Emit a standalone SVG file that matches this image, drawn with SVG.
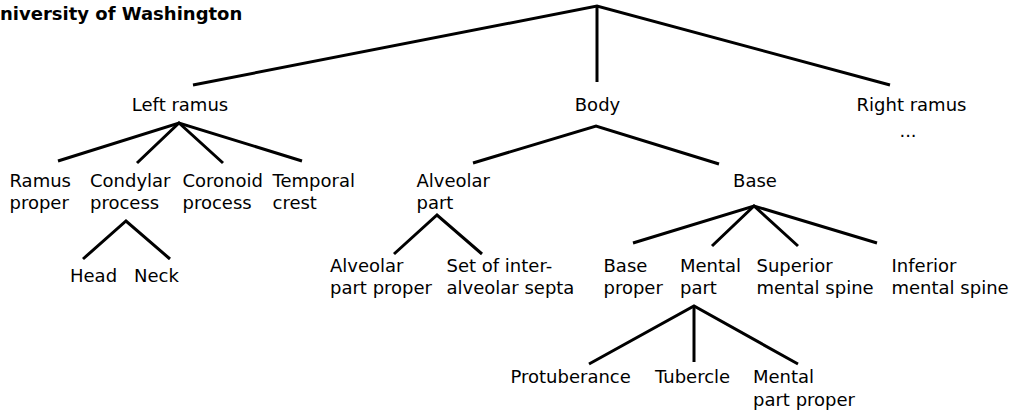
<svg xmlns="http://www.w3.org/2000/svg" width="1014" height="414" viewBox="0 0 1014 414">
<style>
  .lbl { font-family: "DejaVu Sans", sans-serif; font-size: 18px; fill: #000; }
  .title { font-family: "DejaVu Sans", sans-serif; font-size: 18px; font-weight: bold; fill: #000; }
  .edge { stroke: #000; stroke-width: 3; fill: none; stroke-linecap: butt; stroke-linejoin: miter; }
</style>
<rect width="1014" height="414" fill="#fff"/>
<text class="title" x="0" y="19.5">niversity of Washington</text>
<g id="connectors">
  <polyline class="edge" points="193,85 597,6 890,85"/>
  <line class="edge" x1="597" y1="6" x2="597" y2="82"/>
  <polyline class="edge" points="58,161 179,123 302,161"/>
  <polyline class="edge" points="137,163 179,123 223,163"/>
  <polyline class="edge" points="83,259 126,221 170,259"/>
  <polyline class="edge" points="473,163 596,126 719,164"/>
  <polyline class="edge" points="394,254 437,215 482,254"/>
  <polyline class="edge" points="633,243 754,206 877,243"/>
  <polyline class="edge" points="712,246 754,206 798,246"/>
  <polyline class="edge" points="589,364 694,306 798,364"/>
  <line class="edge" x1="694" y1="306" x2="694" y2="362"/>
</g>
<g id="left-ramus"><text class="lbl" x="180" y="111" text-anchor="middle">Left ramus</text></g>
<g id="body"><text class="lbl" x="597.5" y="111" text-anchor="middle">Body</text></g>
<g id="right-ramus"><text class="lbl" x="911.5" y="111" text-anchor="middle">Right ramus</text><text class="lbl" x="908" y="137" text-anchor="middle">...</text></g>
<g id="ramus-proper"><text class="lbl" x="9.5" y="186.5">Ramus</text><text class="lbl" x="9.5" y="209">proper</text></g>
<g id="condylar-process"><text class="lbl" x="90" y="186.5">Condylar</text><text class="lbl" x="90" y="209">process</text></g>
<g id="coronoid-process"><text class="lbl" x="182.5" y="186.5">Coronoid</text><text class="lbl" x="182.5" y="209">process</text></g>
<g id="temporal-crest"><text class="lbl" x="272.5" y="186.5">Temporal</text><text class="lbl" x="272.5" y="209">crest</text></g>
<g id="head"><text class="lbl" x="70" y="281.5">Head</text></g>
<g id="neck"><text class="lbl" x="134" y="281.5">Neck</text></g>
<g id="alveolar-part"><text class="lbl" x="416.5" y="186.5">Alveolar</text><text class="lbl" x="416.5" y="209">part</text></g>
<g id="base"><text class="lbl" x="755" y="186.5" text-anchor="middle">Base</text></g>
<g id="alveolar-part-proper"><text class="lbl" x="330" y="271.5">Alveolar</text><text class="lbl" x="330" y="294">part proper</text></g>
<g id="interalveolar-septa"><text class="lbl" x="446.5" y="271.5">Set of inter-</text><text class="lbl" x="446.5" y="294">alveolar septa</text></g>
<g id="base-proper"><text class="lbl" x="603.5" y="271.5">Base</text><text class="lbl" x="603.5" y="294">proper</text></g>
<g id="mental-part"><text class="lbl" x="680" y="271.5">Mental</text><text class="lbl" x="680" y="294">part</text></g>
<g id="superior-mental-spine"><text class="lbl" x="756.5" y="271.5">Superior</text><text class="lbl" x="756.5" y="294">mental spine</text></g>
<g id="inferior-mental-spine"><text class="lbl" x="891.5" y="271.5">Inferior</text><text class="lbl" x="891.5" y="294">mental spine</text></g>
<g id="protuberance"><text class="lbl" x="510.5" y="383">Protuberance</text></g>
<g id="tubercle"><text class="lbl" x="655" y="383">Tubercle</text></g>
<g id="mental-part-proper"><text class="lbl" x="753" y="383">Mental</text><text class="lbl" x="753" y="405.5">part proper</text></g>
</svg>
